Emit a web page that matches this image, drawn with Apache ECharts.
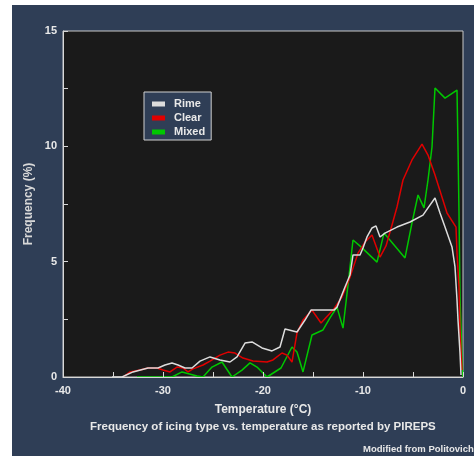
<!DOCTYPE html>
<html>
<head>
<meta charset="utf-8">
<script src="https://cdn.jsdelivr.net/npm/echarts@6/dist/echarts.min.js"></script>
<style>
  html, body { margin: 0; padding: 0; background: #ffffff; }
  #panel { position: absolute; left: 12px; top: 5px; width: 462px; height: 451px; background: #2f3e56; }
  #chart { position: absolute; left: 0; top: 0; width: 474px; height: 456px; }
</style>
</head>
<body>
<div id="panel"></div>
<div id="chart"></div>
<script>
// Icing frequency (%) by temperature (°C) for each icing type
const rimeTemp = [-35.1, -34.1, -33.0, -31.5, -30.5, -29.8, -29.1, -28.5, -27.8, -27.1, -26.3, -25.3, -24.3, -23.3, -22.6, -21.8, -21.1, -20.1, -19.1, -18.3, -17.8, -16.6, -15.8, -15.2, -12.9, -12.6, -11.8, -11.3, -11.0, -10.3, -10.0, -9.6, -9.1, -8.7, -8.3, -7.8, -6.6, -5.3, -4.0, -3.5, -2.8, -2.3, -1.8, -1.1, -0.8, -0.6, -0.5, -0.3, -0.2];
const rimeFreq = [0, 0, 0.22, 0.39, 0.39, 0.52, 0.61, 0.52, 0.39, 0.39, 0.69, 0.87, 0.74, 0.65, 0.87, 1.47, 1.52, 1.26, 1.13, 1.30, 2.08, 1.95, 2.47, 2.90, 2.90, 3.03, 3.90, 4.42, 5.29, 5.29, 5.59, 6.07, 6.46, 6.55, 6.07, 6.24, 6.50, 6.72, 7.02, 7.33, 7.76, 7.11, 6.50, 5.64, 4.77, 3.34, 2.47, 1.04, 0.09];

const clearTemp = [-34.0, -33.3, -32.3, -31.5, -30.6, -30.0, -29.3, -28.6, -28.0, -27.5, -27.0, -26.0, -25.3, -24.3, -23.5, -22.8, -22.0, -21.0, -19.6, -19.0, -18.1, -17.6, -17.1, -16.6, -16.0, -15.1, -14.2, -13.0, -12.1, -11.3, -10.5, -9.8, -9.1, -8.3, -7.7, -7.1, -6.6, -6.0, -5.1, -4.1, -3.5, -2.8, -1.6, -0.7, -0.6, -0.4, -0.3, -0.1];
const clearFreq = [0, 0.22, 0.30, 0.39, 0.39, 0.30, 0.22, 0.43, 0.39, 0.22, 0.35, 0.52, 0.69, 0.95, 1.08, 1.04, 0.82, 0.69, 0.65, 0.74, 1.04, 0.95, 0.65, 1.91, 2.47, 2.90, 2.34, 2.90, 3.47, 4.33, 5.37, 5.85, 6.16, 5.20, 5.68, 6.59, 7.37, 8.54, 9.41, 10.10, 9.62, 8.76, 7.11, 6.50, 5.37, 3.90, 2.04, 0.30];

const mixedTemp = [-32.6, -29.1, -28.1, -26.6, -26.0, -25.1, -24.1, -23.1, -22.1, -21.3, -20.6, -19.6, -18.2, -17.1, -16.6, -16.0, -15.1, -14.0, -13.3, -12.6, -12.0, -11.5, -11.0, -10.2, -8.6, -7.9, -5.8, -5.1, -4.5, -3.9, -3.5, -3.1, -2.8, -1.8, -0.6, -0.5, -0.4, -0.3, -0.1, 0];
const mixedFreq = [0, 0, 0.22, 0.04, 0, 0.43, 0.65, 0, 0.30, 0.61, 0.43, 0, 0.39, 1.30, 1.08, 0.22, 1.82, 2.04, 2.56, 3.03, 2.12, 3.99, 5.94, 5.64, 4.98, 6.24, 5.16, 6.68, 7.89, 7.33, 8.54, 9.97, 12.53, 12.09, 12.44, 9.97, 7.11, 3.47, 0.74, 0];

// axis ranges: ticks every tickStep, labels every labelStep
const xTicks = { min: -40, max: 0, tickStep: 5, labelStep: 10 };
const yTicks = { min: 0, max: 15, tickStep: 2.5, labelStep: 5 };

const pairs = (xs, ys) => xs.map((x, i) => [x, ys[i]]);

const FONT = 'Liberation Sans, Arial, sans-serif';
const TEXT_COLOR = '#e8e8e8';
const TICK_COLOR = '#d8d8d8';
const bold = (size, color) => ({ fontFamily: FONT, fontWeight: 'bold', fontSize: size, color: color || TEXT_COLOR });

const chart = echarts.init(document.getElementById('chart'), null, { renderer: 'canvas' });

const lineSeries = (name, color, xs, ys, z) => ({
  name, type: 'line', data: pairs(xs, ys), symbol: 'none', z,
  lineStyle: { color, width: 1.5 }, itemStyle: { color },
  emphasis: { disabled: true }
});

// only label every labelStep; ticks still fall on every tickStep
const labelEvery = (step) => (v) => (Math.abs(v / step - Math.round(v / step)) < 1e-6 ? String(v) : '');

// axes sit above the plot background so inside ticks stay visible
const axisStyle = () => ({
  z: 10,
  axisLine: { show: true, onZero: false, lineStyle: { color: TICK_COLOR, width: 1 } },
  axisTick: { show: true, inside: true, length: 5, lineStyle: { color: TICK_COLOR, width: 1 } },
  minorTick: { show: false },
  splitLine: { show: false },
  minorSplitLine: { show: false }
});

chart.setOption({
  animation: false,
  backgroundColor: 'transparent',
  grid: {
    z: 0,
    left: 63, top: 31, width: 400, height: 346,
    show: true, backgroundColor: '#1a1a1a', borderColor: '#c8c8c8', borderWidth: 1
  },
  legend: {
    orient: 'vertical', left: 144, top: 92, z: 12,
    backgroundColor: '#2f3e56', borderColor: '#d0d0d0', borderWidth: 1,
    padding: [6, 6, 2, 8], itemGap: 2, itemWidth: 13, itemHeight: 5,
    icon: 'rect',
    textStyle: Object.assign(bold(11), { lineHeight: 12, padding: [0, 0, 0, 4] }),
    data: ['Rime', 'Clear', 'Mixed']
  },
  xAxis: Object.assign({
    type: 'value', position: 'bottom', min: xTicks.min, max: xTicks.max, interval: xTicks.tickStep,
    name: 'Temperature (°C)', nameLocation: 'middle', nameGap: 27, nameMoveOverlap: false,
    nameTextStyle: bold(12),
    axisLabel: Object.assign(bold(11), { margin: 8, formatter: labelEvery(xTicks.labelStep) })
  }, axisStyle()),
  yAxis: Object.assign({
    type: 'value', position: 'left', min: yTicks.min, max: yTicks.max, interval: yTicks.tickStep,
    name: 'Frequency (%)', nameLocation: 'middle', nameGap: 28, nameRotate: 90, nameMoveOverlap: false,
    nameTextStyle: bold(12, '#d8d8d8'),
    axisLabel: Object.assign(bold(11), { margin: 6, formatter: labelEvery(yTicks.labelStep) })
  }, axisStyle()),
  graphic: [
    {
      type: 'text', left: 90, top: 421,
      style: { text: 'Frequency of icing type vs. temperature as reported by PIREPS', font: 'bold 11.5px ' + FONT, fill: TEXT_COLOR }
    },
    {
      type: 'text', left: 363, top: 444,
      style: { text: 'Modified from Politovich', font: 'bold 9.5px ' + FONT, fill: TEXT_COLOR }
    }
  ],
  series: [
    lineSeries('Mixed', '#00c800', mixedTemp, mixedFreq, 2),
    lineSeries('Clear', '#e00000', clearTemp, clearFreq, 3),
    lineSeries('Rime', '#dcdcdc', rimeTemp, rimeFreq, 4)
  ]
});
</script>
</body>
</html>
